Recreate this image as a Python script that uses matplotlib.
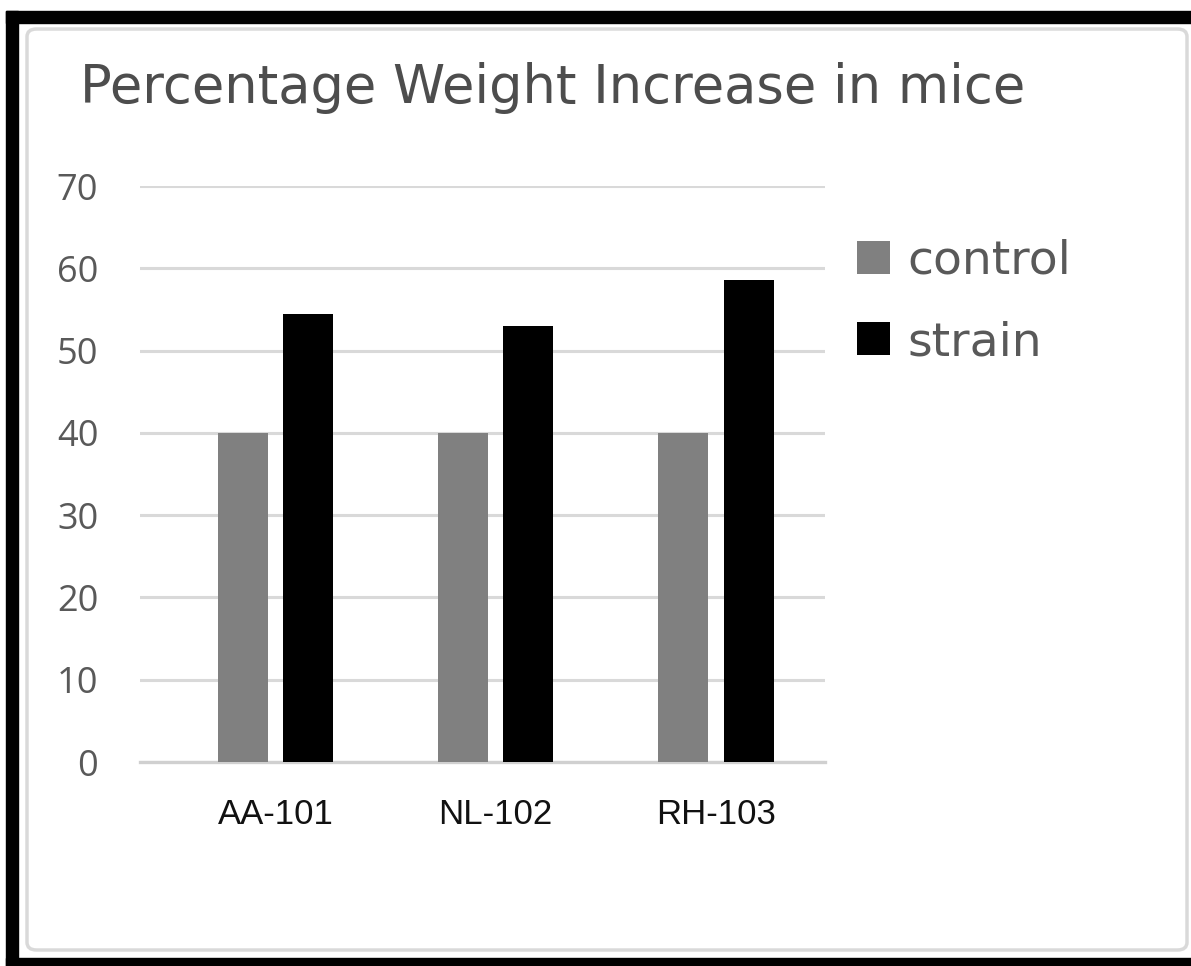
import matplotlib.pyplot as plt
from matplotlib.patches import Rectangle, FancyBboxPatch
import numpy as np

strains = ["AA-101", "NL-102", "RH-103"]
control = [40, 40, 40]
strain = [54.4, 53.0, 58.6]
y_ticks = [0, 10, 20, 30, 40, 50, 60, 70]

W, H = 1191, 966
fig = plt.figure(figsize=(W / 100, H / 100), dpi=100)


def fx(px):
    return px / W


def fy(py):
    return 1 - py / H


# outer black frame (left, top, bottom only) and the light chart border
fig.patches.append(Rectangle((fx(6), 0), fx(12), fy(11), transform=fig.transFigure,
                             color="black", zorder=0))
fig.patches.append(Rectangle((fx(6), fy(23)), 1, fy(11) - fy(23), transform=fig.transFigure,
                             color="black", zorder=0))
fig.patches.append(Rectangle((fx(6), 0), 1, fy(958), transform=fig.transFigure,
                             color="black", zorder=0))
fig.patches.append(FancyBboxPatch((fx(27), fy(950)), fx(1187 - 27), fy(29) - fy(950),
                                  boxstyle="round,pad=0,rounding_size=0.008",
                                  transform=fig.transFigure, facecolor="white",
                                  edgecolor="#d9d9d9", lw=2.5, zorder=1))

ax = fig.add_axes([fx(140), fy(762), fx(825 - 140), fy(186) - fy(762)])
ax.set_zorder(2)
ax.patch.set_alpha(0)

x = np.arange(len(strains))
bw = 0.227
off = 0.148
b1 = ax.bar(x - off, control, bw, color="#808080", label="control", zorder=3)
b2 = ax.bar(x + off, strain, bw, color="#000000", label="strain", zorder=3)

ax.set_xlim(-0.615, 2.495)
ax.set_ylim(0, 70)
ax.set_yticks(y_ticks)
ax.yaxis.grid(True, color="#d9d9d9", lw=2.2)
ax.set_axisbelow(True)
for s in ["top", "right", "left"]:
    ax.spines[s].set_visible(False)
ax.spines["bottom"].set_color("#d0d0d0")
ax.spines["bottom"].set_linewidth(2.4)
ax.tick_params(axis="both", length=0)
ax.tick_params(axis="y", pad=30, labelsize=26, labelcolor="#595959")
ax.tick_params(axis="x", pad=26, labelsize=25, labelcolor="#111111")
for t in ax.get_yticklabels():
    t.set_fontfamily("Open Sans")
ax.set_xticks(x)
ax.set_xticklabels(strains, fontfamily="Liberation Sans")

fig.text(fx(80), fy(103), "Percentage Weight Increase in mice", fontsize=38,
         fontfamily="DejaVu Sans", color="#4d4d4d", va="baseline", ha="left")

fig.legend(handles=[b1, b2], loc="upper left", bbox_to_anchor=(fx(857), fy(239)),
           frameon=False, prop={"family": "DejaVu Sans", "size": 34},
           labelcolor="#595959", handlelength=0.7, handleheight=0.7,
           handletextpad=0.36, labelspacing=0.77, borderpad=0, borderaxespad=0)

plt.savefig("out.png", dpi=100)
